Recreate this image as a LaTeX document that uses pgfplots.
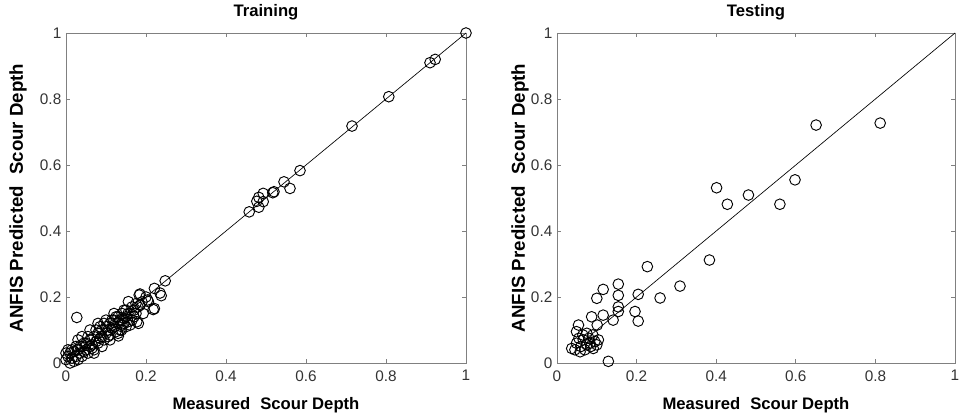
\documentclass[border=0pt]{standalone}
\usepackage{pgfplots}
\pgfplotsset{compat=1.18}
\usepackage{fontspec}
\setmainfont{Liberation Sans}
\definecolor{axgray}{HTML}{808080}
\definecolor{tickgray}{HTML}{333333}
\pgfplotsset{
  scatterax/.style={
    scale only axis,
    anchor=south west,
    height=247.5pt,
    xmin=0, xmax=1, ymin=0, ymax=1,
    xtick={0,0.2,0.4,0.6,0.8,1},
    ytick={0,0.2,0.4,0.6,0.8,1},
    tick align=inside,
    xtick pos=both, ytick pos=both,
    major tick length=3pt,
    axis line style={axgray, line width=0.6pt},
    every tick/.style={axgray, line width=0.5pt},
    /pgf/number format/assume math mode=true,
    tick label style={font=\fontsize{11.5}{13}\selectfont, text=tickgray},
    xticklabel style={yshift=-2pt},
    xlabel style={font=\bfseries\fontsize{12.5}{14}\selectfont, at={(axis description cs:0.5,-0.127)}, anchor=center},
    ylabel style={font=\bfseries\fontsize{14}{16}\selectfont},
    clip=false,
  },
  circ/.style={only marks, mark=o, mark size=4pt, mark options={black, line width=0.7pt}},
}
\begin{document}
\begin{tikzpicture}
\path[use as bounding box] (0,0) rectangle (723pt,312.75pt);
\begin{axis}[scatterax, at={(49.5pt,40.5pt)}, width=300pt,
  xlabel={Measured\hspace{0.6em}Scour Depth}, ylabel={ANFIS Predicted\hspace{0.6em}Scour Depth},
  ylabel style={at={(axis description cs:-0.12,0.5)}, anchor=center}]
\addplot[black, line width=0.5pt] coordinates {(0,0) (1,1)};
\addplot[circ] coordinates {
(1.0,1.0) (0.91,0.91) (0.923,0.92) (0.807,0.807) (0.715,0.718) (0.585,0.583)
(0.56,0.529) (0.545,0.549) (0.52,0.519) (0.517,0.516) (0.493,0.514) (0.482,0.502)
(0.493,0.489) (0.482,0.472) (0.458,0.458) (0.477,0.49)
(0.248,0.249) (0.221,0.226) (0.238,0.204) (0.221,0.165) (0.204,0.191) (0.183,0.206)
(0.181,0.12) (0.131,0.082) (0.027,0.138) (0.156,0.186) (0.16,0.115) (0.235,0.212)
(0.185,0.209) (0.206,0.186) (0.218,0.162) (0.193,0.15) (0.177,0.125) (0.139,0.1)
(0.0,0.01) (0.0,0.03) (0.005,0.02) (0.005,0.04) (0.01,0.0) (0.01,0.03) (0.015,0.015)
(0.02,0.005) (0.02,0.035) (0.025,0.02) (0.03,0.01) (0.03,0.04) (0.03,0.07) (0.035,0.03)
(0.04,0.02) (0.04,0.05) (0.04,0.08) (0.045,0.035) (0.05,0.04) (0.05,0.06) (0.055,0.03)
(0.06,0.05) (0.06,0.07) (0.06,0.1) (0.065,0.055) (0.07,0.04) (0.07,0.03) (0.07,0.08)
(0.075,0.065) (0.08,0.06) (0.08,0.09) (0.08,0.12) (0.085,0.075) (0.09,0.08) (0.09,0.05)
(0.09,0.1) (0.095,0.07) (0.1,0.09) (0.1,0.11) (0.1,0.13) (0.105,0.1) (0.11,0.085)
(0.11,0.07) (0.11,0.12) (0.115,0.105) (0.12,0.11) (0.12,0.13) (0.12,0.15) (0.125,0.095)
(0.13,0.12) (0.13,0.09) (0.13,0.14) (0.135,0.13) (0.14,0.115) (0.14,0.15) (0.145,0.135)
(0.15,0.14) (0.15,0.11) (0.15,0.16) (0.155,0.125) (0.16,0.15) (0.165,0.17) (0.17,0.16)
(0.175,0.18) (0.18,0.17) (0.19,0.185) (0.2,0.2) (0.17,0.14) (0.145,0.16)
(0.045,0.06) (0.055,0.08) (0.065,0.045) (0.075,0.1) (0.085,0.11) (0.095,0.12)
(0.105,0.08) (0.115,0.13) (0.125,0.14) (0.135,0.1) (0.145,0.12) (0.155,0.15)
(0.165,0.13) (0.175,0.15) (0.185,0.175) (0.025,0.05) (0.015,0.04) (0.035,0.05)
};
\node[font=\bfseries\fontsize{12.5}{14}\selectfont] at (axis description cs:0.5,1.064) {Training};
\end{axis}
\begin{axis}[scatterax, at={(417.75pt,40.5pt)}, width=298.5pt,
  xlabel={Measured\hspace{0.6em}Scour Depth}, ylabel={ANFIS Predicted\hspace{0.6em}Scour Depth},
  ylabel style={at={(axis description cs:-0.093,0.5)}, anchor=center}]
\addplot[black, line width=0.5pt] coordinates {(0.08,0.08) (1,1)};
\addplot[circ] coordinates {
(0.037,0.044) (0.049,0.095) (0.058,0.034) (0.066,0.07) (0.075,0.09) (0.083,0.06)
(0.091,0.044) (0.104,0.07) (0.049,0.06) (0.06,0.05) (0.07,0.04) (0.08,0.075)
(0.09,0.085) (0.1,0.055) (0.065,0.085) (0.055,0.075) (0.085,0.05) (0.095,0.065)
(0.045,0.04) (0.075,0.055) (0.054,0.115) (0.087,0.14) (0.101,0.115) (0.116,0.145)
(0.1,0.196) (0.116,0.223) (0.129,0.005) (0.141,0.13) (0.154,0.156) (0.154,0.17)
(0.154,0.205) (0.154,0.239) (0.196,0.156) (0.204,0.127) (0.204,0.208) (0.227,0.292)
(0.259,0.197) (0.309,0.233) (0.383,0.312) (0.401,0.531) (0.428,0.481) (0.481,0.509)
(0.56,0.481) (0.598,0.555) (0.651,0.721) (0.812,0.727)
};
\node[font=\bfseries\fontsize{12.5}{14}\selectfont] at (axis description cs:0.5,1.064) {Testing};
\end{axis}
\end{tikzpicture}
\end{document}
